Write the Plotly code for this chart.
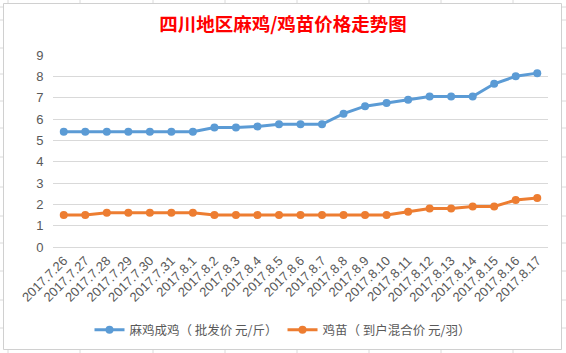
import plotly.graph_objects as go

dates = ["2017.7.26", "2017.7.27", "2017.7.28", "2017.7.29", "2017.7.30", "2017.7.31",
         "2017.8.1", "2017.8.2", "2017.8.3", "2017.8.4", "2017.8.5", "2017.8.6",
         "2017.8.7", "2017.8.8", "2017.8.9", "2017.8.10", "2017.8.11", "2017.8.12",
         "2017.8.13", "2017.8.14", "2017.8.15", "2017.8.16", "2017.8.17"]
adult_chicken = [5.4, 5.4, 5.4, 5.4, 5.4, 5.4, 5.4, 5.6, 5.6, 5.65, 5.75, 5.75,
                 5.75, 6.25, 6.6, 6.75, 6.9, 7.05, 7.05, 7.05, 7.65, 8.0, 8.15]
chick = [1.5, 1.5, 1.6, 1.6, 1.6, 1.6, 1.6, 1.5, 1.5, 1.5, 1.5, 1.5,
         1.5, 1.5, 1.5, 1.5, 1.65, 1.8, 1.8, 1.9, 1.9, 2.2, 2.3]
series_names = ["麻鸡成鸡（ 批发价 元/斤）", "鸡苗（ 到户混合价 元/羽）"]
y_ticks = [0, 1, 2, 3, 4, 5, 6, 7, 8, 9]

W, H = 566, 353
L, R, T, B = 53, 18, 55, 106
PW, PH = W - L - R, H - T - B

def px(x):
    return (x - L) / PW

def py(y):
    return (H - B - y) / PH

CJK = "Noto Sans CJK SC, Microsoft YaHei, sans-serif"
GRAY = "#595959"

fig = go.Figure()
fig.add_trace(go.Scatter(x=dates, y=adult_chicken, name=series_names[0], mode="lines+markers",
                         line=dict(color="#5B9BD5", width=3),
                         marker=dict(color="#5B9BD5", size=8)))
fig.add_trace(go.Scatter(x=dates, y=chick, name=series_names[1], mode="lines+markers",
                         line=dict(color="#ED7D31", width=3),
                         marker=dict(color="#ED7D31", size=8)))

shapes = []
# spreadsheet grid lines visible around the chart area
cols = [8, 80, 153, 225, 297, 369, 441, 513]
rows = [7, 20, 48, 74, 101, 128, 157, 187, 216, 243, 271, 300, 328]
for c in cols:
    shapes.append(dict(type="line", xref="paper", yref="paper", x0=px(c), x1=px(c),
                       y0=py(0), y1=py(3), line=dict(color="#DADADA", width=1), layer="below"))
    shapes.append(dict(type="line", xref="paper", yref="paper", x0=px(c), x1=px(c),
                       y0=py(350), y1=py(353), line=dict(color="#DADADA", width=1), layer="below"))
for r in rows:
    shapes.append(dict(type="line", xref="paper", yref="paper", x0=px(0), x1=px(3),
                       y0=py(r), y1=py(r), line=dict(color="#DADADA", width=1), layer="below"))
    shapes.append(dict(type="line", xref="paper", yref="paper", x0=px(562), x1=px(566),
                       y0=py(r), y1=py(r), line=dict(color="#DADADA", width=1), layer="below"))
# chart area border
shapes.append(dict(type="rect", xref="paper", yref="paper", x0=px(3.5), x1=px(561.5),
                   y0=py(349.5), y1=py(3.5), line=dict(color="#D0D0D0", width=1), layer="below"))

fig.update_layout(
    width=W, height=H,
    margin=dict(l=L, r=R, t=T, b=B, autoexpand=False),
    paper_bgcolor="white", plot_bgcolor="white",
    title=dict(text="<b>四川地区麻鸡/鸡苗价格走势图</b>", x=0.5, xanchor="center",
               y=1 - 25 / H, yanchor="middle", yref="container",
               font=dict(family=CJK, size=18.5, color="#FF0000")),
    xaxis=dict(type="category", range=[-0.5, len(dates) - 0.5], tickangle=-45,
               showgrid=False, showline=True, linecolor="#D9D9D9", linewidth=1,
               automargin=False,
               ticks="", tickfont=dict(family="Liberation Sans, Arial", size=13, color=GRAY)),
    yaxis=dict(range=[0, 9], tickvals=y_ticks, showgrid=True, gridcolor="#D9D9D9",
               gridwidth=1, zeroline=False, showline=False, ticks="outside", ticklen=6,
               tickcolor="rgba(0,0,0,0)", automargin=False,
               tickfont=dict(family="Liberation Sans, Arial", size=13, color=GRAY)),
    legend=dict(orientation="h", xref="container", x=0.5, xanchor="center",
                yref="container", y=1 - 330 / H, yanchor="middle",
                font=dict(family=CJK, size=12.5, color=GRAY), itemwidth=30,
                bgcolor="rgba(0,0,0,0)"),
    shapes=shapes,
    showlegend=True,
)

fig.write_html("out.html")
